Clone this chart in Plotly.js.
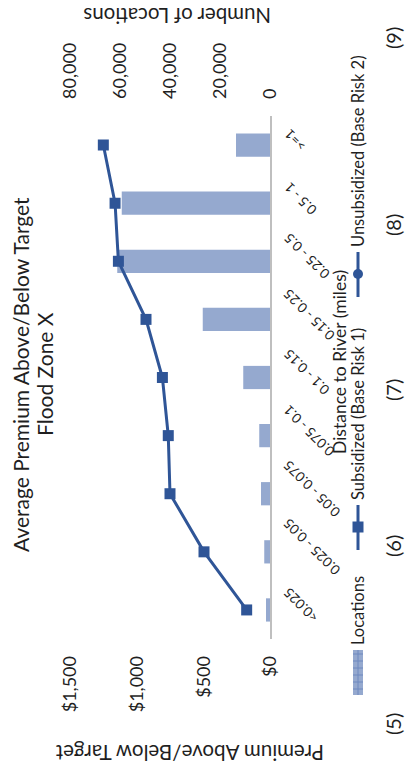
<!DOCTYPE html>
<html>
<head>
<meta charset="utf-8">
<script src="https://cdn.plot.ly/plotly-3.0.1.min.js"></script>
<style>
  html, body { margin: 0; padding: 0; background: #ffffff; overflow: hidden; width: 409px; height: 765px; }
  #wrap { position: absolute; left: 0; top: 0; width: 765px; height: 409px;
          transform-origin: 0 0; transform: translate(0px, 765px) rotate(-90deg); }
  #chart { width: 765px; height: 409px; }
</style>
</head>
<body>
<div id="wrap"><div id="chart"></div></div>
<script>
// ---- data ----
const categories = ["<0.025", "0.025 - 0.05", "0.05 - 0.075", "0.075 - 0.1", "0.1 - 0.15",
                    "0.15 - 0.25", "0.25 - 0.5", "0.5 - 1", ">=1"];
const locations = [1600, 2300, 3600, 4300, 10700, 26900, 61100, 59300, 13600];
const subsidized = [175, 495, 750, 763, 807, 930, 1137, 1162, 1250];
const premiumTicks = [0, 500, 1000, 1500];
const locationTicks = [0, 20000, 40000, 60000, 80000];
const columnLabels = ["(5)", "(6)", "(7)", "(8)", "(9)"];

// ---- layout geometry (unrotated chart, 765 x 409) ----
const W = 765, H = 409;
const PL = 126, PR = 649, PT = 70, PB = 270;
const px = v => (v - PL) / (PR - PL);
const py = v => (PB - v) / (PB - PT);

const FONT = "Lato, 'Open Sans', sans-serif";
const TXT = "#1f1f1f";
const BAR = "#95A9CF";
const LINE = "#2F5597";

const traces = [
  { type: "bar", x: categories, y: locations, yaxis: "y", name: "Locations",
    marker: { color: BAR }, hoverinfo: "skip" },
  { type: "scatter", mode: "lines+markers", x: categories, y: subsidized, yaxis: "y2",
    name: "Subsidized (Base Risk 1)",
    line: { color: LINE, width: 3 },
    marker: { symbol: "square", size: 11, color: LINE }, hoverinfo: "skip" }
];

const ann = [];
function text(t, x, y, size, opts) {
  ann.push(Object.assign({ text: t, xref: "paper", yref: "paper", x: px(x), y: py(y),
    showarrow: false, font: { family: FONT, size: size, color: TXT },
    xanchor: "center", yanchor: "middle" }, opts || {}));
}
// category labels, centred on their category position, rotated
categories.forEach(c => ann.push({ text: c, xref: "x", yref: "paper", x: c, y: py(278), xshift: 5,
  showarrow: false, textangle: -45, xanchor: "center", yanchor: "top",
  font: { family: FONT, size: 13.5, color: TXT } }));

text("Average Premium Above/Below Target", 390, 20, 21);
text("Flood Zone X", 391, 44, 21);
text("Premium Above/Below Target", 12, 190, 20.5, { textangle: -90 });
text("Number of Locations", 749, 177, 20.5, { textangle: -90 });
text("Distance to River (miles)", 403, 339, 17.5);
text("Locations", 118, 358, 16.5, { xanchor: "left" });
text("Subsidized (Base Risk 1)", 263, 358, 16.5, { xanchor: "left" });
text("Unsubsidized (Base Risk 2)", 516, 358, 16.5, { xanchor: "left" });
const colX = [41, 219, 375, 540, 727];
columnLabels.forEach((c, i) => text(c, colX[i], 393, 20));

const shapes = [];
function rect(x0, y0, x1, y1, fill, lineColor, lw) {
  shapes.push({ type: "rect", xref: "paper", yref: "paper", x0: px(x0), x1: px(x1), y0: py(y0), y1: py(y1),
    fillcolor: fill, line: { color: lineColor || fill, width: lw || 0 } });
}
function seg(x0, y0, x1, y1, color, w) {
  shapes.push({ type: "line", xref: "paper", yref: "paper", x0: px(x0), x1: px(x1), y0: py(y0), y1: py(y1),
    line: { color: color, width: w } });
}
// legend: Locations key (patterned rectangle)
rect(70, 353, 115, 363, BAR);
for (let k = 76; k < 115; k += 7) seg(k, 353, k, 363, "#6F89BF", 1);
seg(70, 358, 115, 358, "#6F89BF", 1);
// legend: subsidized key
seg(215, 358, 260, 358, LINE, 3);
rect(232.5, 352.5, 243.5, 363.5, LINE);
// legend: unsubsidized key
seg(468, 358, 513, 358, LINE, 3);
shapes.push({ type: "circle", xref: "paper", yref: "paper", x0: px(486), x1: px(496), y0: py(353), y1: py(363),
  fillcolor: LINE, line: { color: LINE, width: 0 } });

const layout = {
  width: W, height: H,
  margin: { l: PL, r: W - PR, t: PT, b: H - PB, pad: 0 },
  paper_bgcolor: "#ffffff", plot_bgcolor: "rgba(0,0,0,0)",
  showlegend: false,
  bargap: 0.6,
  font: { family: FONT, color: TXT },
  separators: ".,",
  xaxis: { type: "category", categoryorder: "array", categoryarray: categories,
    range: [-0.5, 8.5], showline: true, linecolor: "#BFBFBF", linewidth: 2,
    ticks: "", showgrid: false, zeroline: false, showticklabels: false },
  yaxis: { side: "right", range: [0, 80000], tickvals: locationTicks, tickformat: ",d",
    showgrid: false, zeroline: false, showline: false, ticks: "", ticklabelstandoff: 16,
    tickfont: { family: FONT, size: 18, color: TXT } },
  yaxis2: { overlaying: "y", side: "left", range: [0, 1500], tickvals: premiumTicks,
    tickformat: "$,d", showgrid: false, zeroline: false, showline: false, ticks: "", ticklabelstandoff: 16,
    tickfont: { family: FONT, size: 18, color: TXT } },
  annotations: ann,
  shapes: shapes
};

Plotly.newPlot("chart", traces, layout, { staticPlot: true, displayModeBar: false });
</script>
</body>
</html>
